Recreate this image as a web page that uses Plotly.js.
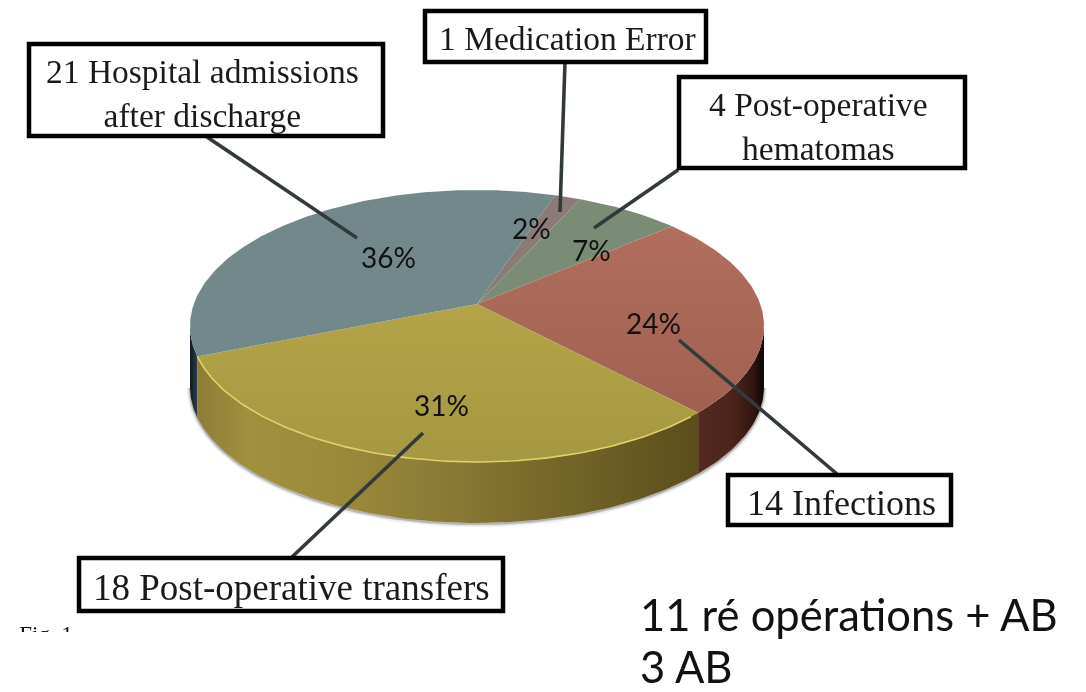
<!DOCTYPE html>
<html><head><meta charset="utf-8">
<script src="https://cdn.plot.ly/plotly-3.0.1.min.js"></script>
<style>html,body{margin:0;padding:0;background:#fff;overflow:hidden}#chart{width:1086px;height:692px}</style>
</head><body><div id="chart"></div>
<script>
// Data (clockwise from the small brown slice)
const categories = ["1 Medication Error", "4 Post-operative<br>hematomas", "14 Infections", "18 Post-operative transfers", "21 Hospital admissions<br>after discharge"];
const counts = [1, 4, 14, 18, 21];
const percentLabels = ["2%", "7%", "24%", "31%", "36%"];
const topColors = ["#8b7b76", "#7a8c76", "#a86757", "#a99a42", "#73888b"];
const sideNotes = ["11 ré opérations + AB", "3 AB"];
const figureNote = "Fig. 1";

// Projection of the round pie into its tilted perspective view
const apexX = 477, apexY = 304, radX = 283.2, radY = 132.4, persp = -0.1618, depth = 61, startDeg = -71.5;
function proj(deg, dy) {
  const a = deg * Math.PI / 180, c = Math.cos(a), s = Math.sin(a), w = 1 + persp * s;
  return [apexX + radX * c / w, apexY + radY * s / w + (dy || 0)];
}
function arc(a0, a1, dy) {
  const out = [], n = Math.max(2, Math.ceil(Math.abs(a1 - a0)));
  for (let i = 0; i <= n; i++) out.push(proj(a0 + (a1 - a0) * i / n, dy));
  return out;
}
const total = counts.reduce((p, v) => p + v, 0);
const edges = [startDeg];
counts.forEach(v => edges.push(edges[edges.length - 1] + v / total * 360));

const silhouetteR = 9.3, silhouetteL = 170.7;
const traces = [];
function poly(pts, extra) {
  return Object.assign({type: "scatter", mode: "lines", x: pts.map(p => p[0]), y: pts.map(p => p[1]),
    hoverinfo: "skip", showlegend: false, line: {width: 0}}, extra);
}
// soft shadow beneath the wall
[[7, "rgba(0,0,0,0.05)"], [4, "rgba(0,0,0,0.10)"], [2, "rgba(0,0,0,0.18)"]].forEach(s => {
  traces.push(poly(arc(silhouetteR, silhouetteL, depth + 1), {line: {width: s[0], color: s[1]}}));
});
// side walls, from the angular edges of the slices
function wall(a0, a1, scale) {
  const pts = arc(a0, a1, 0).concat(arc(a1, a0, depth));
  pts.push(pts[0]);
  traces.push(poly(pts, {fill: "toself", fillgradient: {type: "horizontal", colorscale: scale}, fillcolor: "#000"}));
}
wall(silhouetteR, edges[3], [[0, "#54291f"], [0.55, "#4a241b"], [0.85, "#2f140f"], [1, "#0c0504"]]);
wall(edges[3], edges[4], [[0, "#8d7c36"], [0.1, "#a1903e"], [0.28, "#9c8a3b"], [0.5, "#8a7a35"], [0.72, "#756629"], [1, "#5c4e1c"]]);
wall(edges[4], silhouetteL, [[0, "#0f1820"], [1, "#2d3f4c"]]);
// top faces
counts.forEach((v, i) => {
  const pts = [[apexX, apexY]].concat(arc(edges[i], edges[i + 1], 0));
  pts.push([apexX, apexY]);
  const t = poly(pts, {fill: "toself", fillcolor: topColors[i]});
  if (i === 2) t.fillgradient = {type: "vertical", colorscale: [[0, "#a06050"], [1, "#b16e5e"]]};
  if (i === 3) t.fillgradient = {type: "vertical", colorscale: [[0, "#a69842"], [1, "#b3a448"]]};
  traces.push(t);
});
// highlight along the front rim of the gold slice
traces.push(poly(arc(edges[3] + 2, edges[4], 0), {line: {width: 1.6, color: "#e0d26a"}}));
// clipped caption fragment, covered by the white rect below
traces.push({type: "scatter", mode: "text", x: [46], y: [636], text: [figureNote], textposition: "middle center",
  textfont: {family: "Liberation Serif", size: 23, color: "#111"}, hoverinfo: "skip", showlegend: false});

const ink = "#333a3c";
function leader(x0, y0, x1, y1) {
  return {type: "line", xref: "x", yref: "y", x0, y0, x1, y1, layer: "above", line: {color: ink, width: 3.6}};
}
function box(x0, y0, x1, y1) {
  return {type: "rect", xref: "x", yref: "y", x0, y0, x1, y1, layer: "above", fillcolor: "#fff", line: {color: "#000", width: 4.5}};
}
const shapes = [
  leader(565, 62, 560, 212), leader(678, 170, 594, 228), leader(207, 137, 357, 238),
  leader(679, 340, 837, 474), leader(423, 433, 292, 557),
  box(425, 11, 706, 62), box(679, 77, 965, 168), box(29, 44, 383, 136), box(728, 475, 951, 525), box(79, 558, 503, 611),
  {type: "rect", xref: "x", yref: "y", x0: 0, y0: 632, x1: 300, y1: 660, layer: "above", fillcolor: "#fff", line: {width: 0}}
];
const serif = s => ({family: "Liberation Serif", size: s, color: "#1a1a1a"});
function note(text, x, y, font) {
  return {text, x, y, xref: "x", yref: "y", showarrow: false, xanchor: "center", yanchor: "middle", font, align: "center"};
}
const pct = {family: "Lato", size: 28, color: "#111"};
const sideFont = {family: "Lato", size: 43.5, color: "#111"};
const annotations = [
  note(categories[0], 567, 38, serif(33.5)),
  note(categories[1], 818, 126, serif(33.5)),
  note(categories[2], 841, 503, serif(36)),
  note(categories[3], 291, 587, serif(37)),
  note(categories[4], 202, 93, serif(33.5)),
  note(percentLabels[0], 531, 228, pct),
  note(percentLabels[1], 591, 250, pct),
  note(percentLabels[2], 653, 323, pct),
  note(percentLabels[3], 441, 405, pct),
  note(percentLabels[4], 388, 257, pct),
  {text: sideNotes[0], x: 638, y: 614, xref: "x", yref: "y", showarrow: false, xanchor: "left", yanchor: "middle", font: sideFont},
  {text: sideNotes[1], x: 638, y: 666, xref: "x", yref: "y", showarrow: false, xanchor: "left", yanchor: "middle", font: sideFont}
];
const layout = {
  width: 1086, height: 692, margin: {l: 0, r: 0, t: 0, b: 0}, paper_bgcolor: "#fff", plot_bgcolor: "#fff", showlegend: false,
  xaxis: {range: [0, 1086], visible: false, fixedrange: true},
  yaxis: {range: [692, 0], visible: false, fixedrange: true},
  shapes, annotations, hovermode: false
};
Plotly.newPlot("chart", traces, layout, {displayModeBar: false, staticPlot: true}).then(gd => {
  gd.querySelectorAll(".cartesianlayer .scatterlayer").forEach(n => n.style.filter = "blur(0.7px)");
});
</script></body></html>
